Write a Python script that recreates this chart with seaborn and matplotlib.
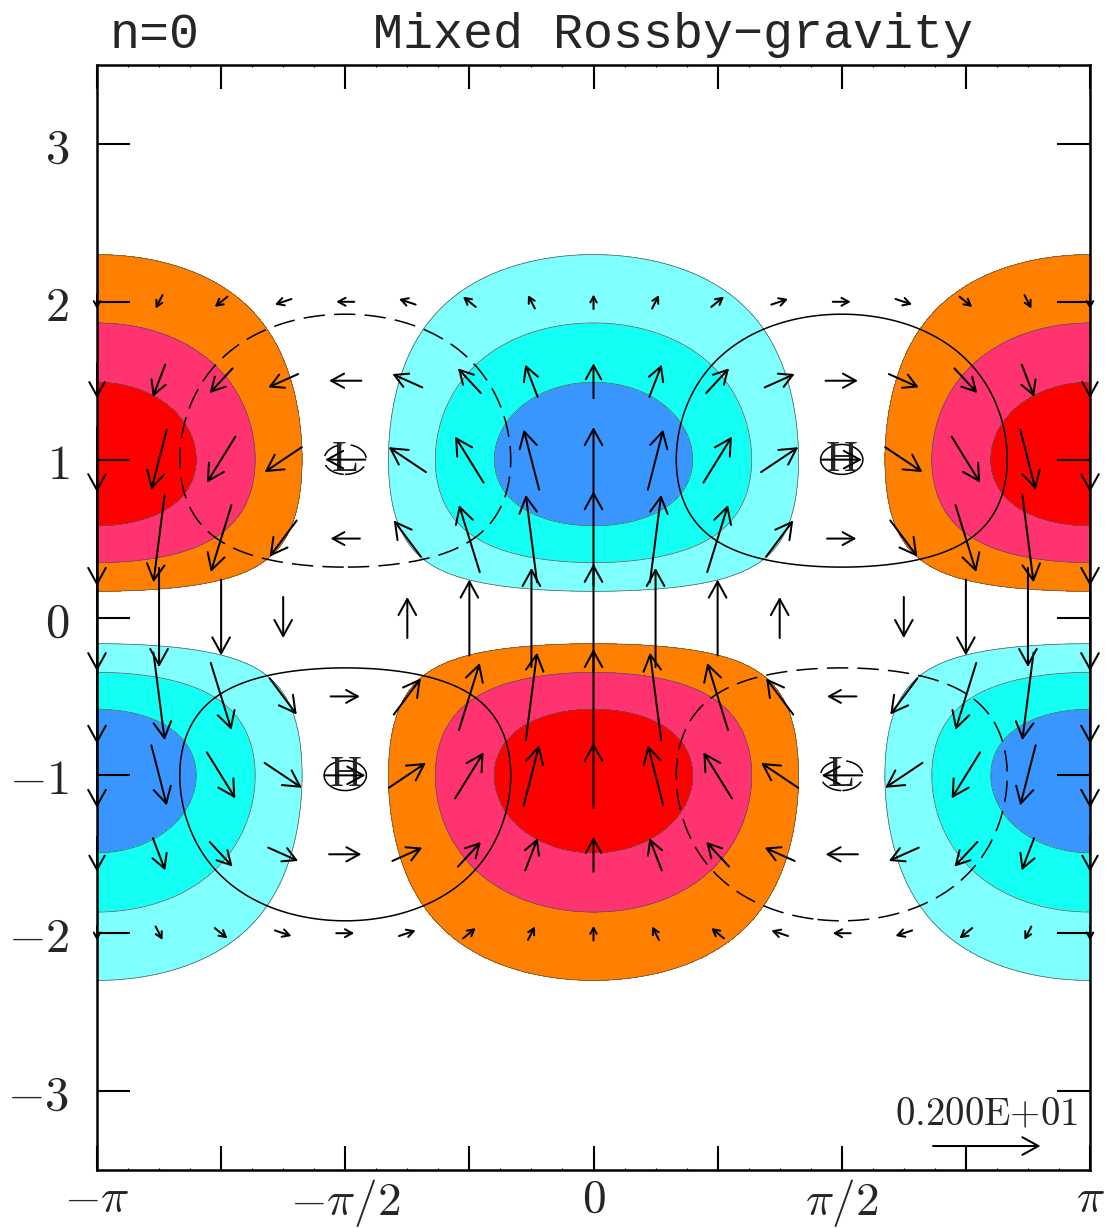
import numpy as np
import matplotlib
matplotlib.use("Agg")
import matplotlib.pyplot as plt
from matplotlib.patches import FancyArrowPatch, ArrowStyle
import seaborn as sns

# ---------------- data (Matsuno n=0 mixed Rossby-gravity wave) ----------------
wavenumber = 1.0
omega = (wavenumber - np.sqrt(wavenumber**2 + 4.0)) / 2.0   # westward MRG branch
amplitude = 2.0

# shading: divergence levels and colours
div_levels = [-10.0, -0.375, -0.25, -0.125, 0.125, 0.25, 0.375, 10.0]
div_colors = ["#3A96FF", "#14FFF4", "#80FFFF", "none", "#FF8000", "#FF3370", "#FF0000"]
# line contours of geopotential
phi_levels = [-0.743, -0.375, 0.375, 0.743]

# vector grid
vec_x_steps = list(range(-8, 9))              # multiples of pi/8
vec_y = [-2.0, -1.5, -1.0, -0.5, 0.0, 0.5, 1.0, 1.5, 2.0]
vec_scale = 0.34                               # data units per unit speed
ref_speed = 2.0
ref_label = r"$0.200\mathrm{E}{+}01$"

x_major = [-np.pi, -3*np.pi/4, -np.pi/2, -np.pi/4, 0, np.pi/4, np.pi/2, 3*np.pi/4, np.pi]
x_labels = [r"$-\pi$", "", r"$-\pi/2$", "", r"$0$", "", r"$\pi/2$", "", r"$\pi$"]
y_major = [-3, -2, -1, 0, 1, 2, 3]
y_labels = [r"$-3$", r"$-2$", r"$-1$", r"$0$", r"$1$", r"$2$", r"$3$"]
title_left = "n=0"
title_right = "Mixed Rossby\u2212gravity"


def fields(x, y):
    e = np.exp(-y**2 / 2.0)
    u = -omega * amplitude * y * e * np.sin(wavenumber * x)
    v = amplitude * e * np.cos(wavenumber * x)
    phi = -omega * amplitude * y * e * np.sin(wavenumber * x)
    div = -(1.0 + omega) * amplitude * y * e * np.cos(wavenumber * x)
    return u, v, phi, div


# ---------------- style ----------------
sns.set_theme(style="white")
plt.rcParams["font.family"] = ["DejaVu Sans"]
plt.rcParams["mathtext.fontset"] = "cm"
plt.rcParams["axes.axisbelow"] = False

fig = plt.figure(figsize=(11.05, 12.28), dpi=100)
ax = fig.add_axes([97/1105, 1-1170/1228, 993/1105, 1105/1228])
ax.set_axisbelow(False)

xs = np.linspace(-np.pi, np.pi, 500)
ys = np.linspace(-3.5, 3.5, 560)
X, Y = np.meshgrid(xs, ys)
U, V, PHI, DIV = fields(X, Y)

ax.contourf(X, Y, DIV, levels=div_levels, colors=div_colors, zorder=1)
ax.contour(X, Y, DIV, levels=[l for l in div_levels if abs(l) < 5],
           colors="#555555", linewidths=0.5, linestyles="solid", zorder=2)

cs = ax.contour(X, Y, PHI, levels=phi_levels, colors="black", linewidths=1.1, zorder=3)
cs.set_linestyles([(0, (14, 6)) if l < 0 else "solid" for l in cs.levels])

# H / L labels at extrema of phi
for half in (Y > 0, Y < 0):
    p = np.where(half, PHI, np.nan)
    imax = np.nanargmax(p)
    imin = np.nanargmin(p)
    ax.text(X.flat[imax], Y.flat[imax], "H", ha="center", va="center",
            family="Liberation Serif", fontsize=32, zorder=4)
    ax.text(X.flat[imin], Y.flat[imin], "L", ha="center", va="center",
            family="Liberation Serif", fontsize=32, zorder=4)

# vectors
px_per_unit = 993 / (2*np.pi)
pt_per_px = 0.72


def draw_arrow(x0, y0, dx, dy, pivot_mid=True):
    L_px = np.hypot(dx, dy) * px_per_unit
    if L_px < 1.5:
        return
    hl = min(0.4 * L_px, 16.0) * pt_per_px
    hw = 0.55 * hl
    if pivot_mid:
        a = (x0 - dx/2, y0 - dy/2)
        b = (x0 + dx/2, y0 + dy/2)
    else:
        a = (x0, y0)
        b = (x0 + dx, y0 + dy)
    arr = FancyArrowPatch(a, b, arrowstyle=ArrowStyle("->", head_length=hl, head_width=hw),
                          mutation_scale=1, lw=1.45, color="black",
                          shrinkA=0, shrinkB=0, clip_on=False, zorder=5)
    ax.add_patch(arr)


for j in vec_x_steps:
    xg = j * np.pi / 8
    for yg in vec_y:
        u, v, _, _ = fields(np.array(xg), np.array(yg))
        draw_arrow(xg, yg, float(u) * vec_scale, float(v) * vec_scale)

# reference vector
x_ref0 = -np.pi + (933 - 97) / px_per_unit
y_ref0 = -3.5 + (1170 - 1146) / px_per_unit
draw_arrow(x_ref0, y_ref0, ref_speed * vec_scale, 0.0, pivot_mid=False)
ax.text(x_ref0 + ref_speed * vec_scale * 0.5, y_ref0 + 0.08, ref_label,
        ha="center", va="bottom", fontsize=28, zorder=6)

# ---------------- axes ----------------
ax.set_xlim(-np.pi, np.pi)
ax.set_ylim(-3.5, 3.5)
ax.set_xticks(x_major)
ax.set_xticklabels(x_labels)
ax.set_xticks(np.arange(-16, 17) * np.pi / 16, minor=True)
ax.set_yticks(y_major)
ax.set_yticklabels(y_labels)
ax.tick_params(axis="x", which="major", direction="in", length=17, width=1.5,
               top=True, bottom=True, labelsize=34, pad=5, color="black")
ax.tick_params(axis="x", which="minor", direction="in", length=1.5, width=0.8,
               top=True, bottom=True, color="black")
ax.tick_params(axis="y", which="major", direction="in", length=24, width=1.5,
               left=True, right=True, labelsize=35, pad=20, color="black")
for s in ax.spines.values():
    s.set_linewidth(1.8)
    s.set_color("black")
    s.set_zorder(7)
ax.set_facecolor("white")

fig.text(110/1105, 1 - 48/1228, title_left, family="Liberation Mono", fontsize=36,
         ha="left", va="baseline")
fig.text(373/1105, 1 - 48/1228, title_right, family="Liberation Mono", fontsize=36,
         ha="left", va="baseline")

fig.savefig("out.png", dpi=100)
